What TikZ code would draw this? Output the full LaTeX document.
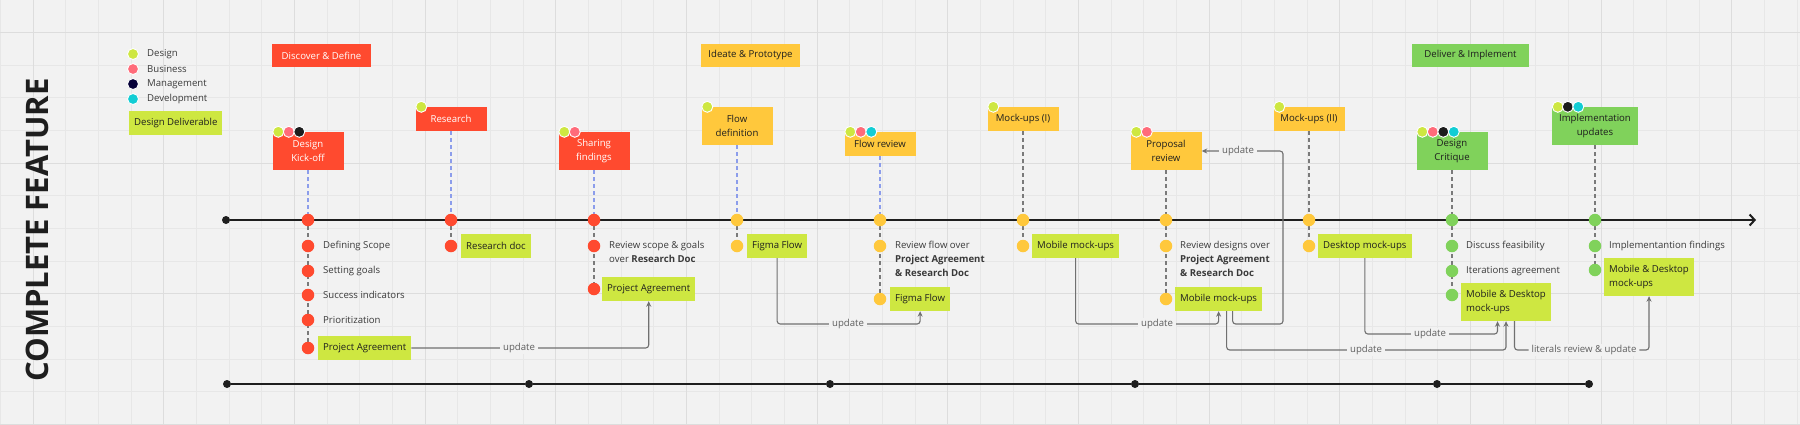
\documentclass[tikz,border=0pt]{standalone}
\usepackage{fontspec}
\setmainfont{Open Sans}
\usetikzlibrary{calc}
\usetikzlibrary{arrows.meta}

\definecolor{paper}{HTML}{F2F2F2}
\definecolor{gridminor}{HTML}{E7E7E7}
\definecolor{gridmajor}{HTML}{DDDDDD}
\definecolor{discover}{HTML}{FF4A2F}
\definecolor{ideate}{HTML}{FFC83C}
\definecolor{deliver}{HTML}{80D25B}
\definecolor{design}{HTML}{CEE741}
\definecolor{business}{HTML}{FF6B7A}
\definecolor{mgmt}{HTML}{050038}
\definecolor{mgmtdark}{HTML}{1C1C1C}
\definecolor{devel}{HTML}{12CDD4}
\definecolor{ink}{HTML}{1E1E1E}
\definecolor{soft}{HTML}{3A3A3A}
\definecolor{wire}{HTML}{707070}
\definecolor{stemblue}{HTML}{8C9DEB}
\definecolor{stemgray}{HTML}{7A7A7A}

\pgfdeclarelayer{grid}
\pgfdeclarelayer{wires}
\pgfsetlayers{grid,wires,main}

\tikzset{
  txt/.style= {font=\fontsize{9.6}{14}\selectfont},
  phase/.style= {txt, minimum height=23pt, inner xsep=6pt, inner ysep=0pt},
  card/.style= {txt, minimum width=71pt, minimum height=24pt, inner sep=0pt, align=center},
  tall/.style= {minimum height=38pt},
  red card/.style= {card, fill=discover, text=white},
  yellow card/.style= {card, fill=ideate, text=ink},
  green card/.style= {card, fill=deliver, text=ink},
  deliv/.style= {txt, fill=design, text=ink, anchor=west, align=left, inner xsep=5pt, inner ysep=0pt, minimum height=24pt},
  item/.style= {txt, text=soft, anchor=west, inner sep=0pt},
  itemblock/.style= {item, anchor=north west, align=left},
  ms/.style= {circle, fill=#1, minimum size=12.5pt, inner sep=0pt},
  who/.style= {circle, fill=#1, draw=white, line width=0.9pt, minimum size=11pt, inner sep=0pt},
  knot/.style= {circle, fill=ink, minimum size=8pt, inner sep=0pt},
  axis/.style= {ink, line width=2pt},
  stem/.style= {draw=#1, dash pattern=on 4pt off 3pt, line width=1.2pt},
  upd/.style= {wire, line width=1.1pt, rounded corners=3pt, -{Stealth[length=5.5pt,width=5pt]}},
  lbl/.style= {txt, text=wire!85!black, fill=paper, inner xsep=3pt, inner ysep=1pt},
}

\begin{document}
\begin{tikzpicture}[x=1pt, y=-1pt]
  \useasboundingbox (0,0) rectangle (1800,424);
  \begin{pgfonlayer}{grid}
    \fill[paper] (0,0) rectangle (1800,424);
    \foreach \i in {0,...,55} \draw[gridminor, line width=0.8pt] ({0.33+32.67*\i},0) -- ++(0,424);
    \foreach \j in {0,...,13} \draw[gridminor, line width=0.8pt] (0,{-0.37+32.67*\j}) -- ++(1800,0);
    \foreach \i in {0,...,13} \draw[gridmajor, line width=0.8pt] ({33+130.68*\i},0) -- ++(0,424);
    \foreach \j in {0,...,3} \draw[gridmajor, line width=0.8pt] (0,{32.3+130.68*\j}) -- ++(1800,0);
  \end{pgfonlayer}

  % title and legend
  \node[font=\fontsize{31}{31}\selectfont\bfseries, text=ink, rotate=90] (title) at (37,230) {COMPLETE FEATURE};
  \node[who=design] (lg1) at (133,54) {};
  \node[who=business] (lg2) at (133,69) {};
  \node[who=mgmt] (lg3) at (133,84) {};
  \node[who=devel] (lg4) at (133,99) {};
  \node[item] (lg1t) at (147,54) {Design};
  \node[item] (lg2t) at (147,69) {Business};
  \node[item] (lg3t) at (147,84) {Management};
  \node[item] (lg4t) at (147,99) {Development};
  \node[deliv] (lg5) at (129,123) {Design Deliverable};

  % phases
  \node[phase, fill=discover, text=white, minimum width=99pt] (discover) at (321.5,55.5) {Discover \& Define};
  \node[phase, fill=ideate, text=ink, minimum width=99pt] (ideate) at (750.5,55.5) {Ideate \& Prototype};
  \node[phase, fill=deliver, text=ink, minimum width=117pt] (deliverph) at (1470.5,55.5) {Deliver \& Implement};

  % milestone cards
  \node[red card, tall] (kick) at (308,151) {Design\\Kick-off};
  \node[red card] (research) at (451,119) {Research};
  \node[red card, tall] (sharing) at (594,151) {Sharing\\findings};
  \node[yellow card, tall] (flowdef) at (737,126) {Flow\\definition};
  \node[yellow card] (flowrev) at (880,144) {Flow review};
  \node[yellow card] (mock1) at (1023,119) {Mock-ups (I)};
  \node[yellow card, tall] (proposal) at (1166,151) {Proposal\\review};
  \node[yellow card] (mock2) at (1309,119) {Mock-ups (II)};
  \node[green card, tall] (critique) at (1452,151) {Design\\Critique};
  \node[green card, tall, minimum width=86pt] (impl) at (1595,126) {Implementation\\updates};

  % who takes part
  \node[who=design] (kick-d) at ($(kick.north west)+(6,0)$) {};
  \node[who=business] (kick-b) at ($(kick.north west)+(16.5,0)$) {};
  \node[who=mgmtdark] (kick-m) at ($(kick.north west)+(27,0)$) {};
  \node[who=design] (research-d) at ($(research.north west)+(6,0)$) {};
  \node[who=design] (sharing-d) at ($(sharing.north west)+(6,0)$) {};
  \node[who=business] (sharing-b) at ($(sharing.north west)+(16.5,0)$) {};
  \node[who=design] (flowdef-d) at ($(flowdef.north west)+(6,0)$) {};
  \node[who=design] (flowrev-d) at ($(flowrev.north west)+(6,0)$) {};
  \node[who=business] (flowrev-b) at ($(flowrev.north west)+(16.5,0)$) {};
  \node[who=devel] (flowrev-v) at ($(flowrev.north west)+(27,0)$) {};
  \node[who=design] (mock1-d) at ($(mock1.north west)+(6,0)$) {};
  \node[who=design] (proposal-d) at ($(proposal.north west)+(6,0)$) {};
  \node[who=business] (proposal-b) at ($(proposal.north west)+(16.5,0)$) {};
  \node[who=design] (mock2-d) at ($(mock2.north west)+(6,0)$) {};
  \node[who=design] (critique-d) at ($(critique.north west)+(6,0)$) {};
  \node[who=business] (critique-b) at ($(critique.north west)+(16.5,0)$) {};
  \node[who=mgmtdark] (critique-m) at ($(critique.north west)+(27,0)$) {};
  \node[who=devel] (critique-v) at ($(critique.north west)+(37.5,0)$) {};
  \node[who=design] (impl-d) at ($(impl.north west)+(6,0)$) {};
  \node[who=mgmtdark] (impl-m) at ($(impl.north west)+(16,0)$) {};
  \node[who=devel] (impl-v) at ($(impl.north west)+(26.5,0)$) {};

  % timeline
  \node[knot] (t0) at (226,220) {};
  \coordinate (tip) at (1756,220);
  \node[ms=discover] (m1) at (308,220) {};
  \node[ms=discover] (m2) at (451,220) {};
  \node[ms=discover] (m3) at (594,220) {};
  \node[ms=ideate] (m4) at (737,220) {};
  \node[ms=ideate] (m5) at (880,220) {};
  \node[ms=ideate] (m6) at (1023,220) {};
  \node[ms=ideate] (m7) at (1166,220) {};
  \node[ms=ideate] (m8) at (1309,220) {};
  \node[ms=deliver] (m9) at (1452,220) {};
  \node[ms=deliver] (m10) at (1595,220) {};

  % steps under each milestone
  \node[ms=discover] (s11) at (308,246) {};
  \node[ms=discover] (s12) at (308,271) {};
  \node[ms=discover] (s13) at (308,295) {};
  \node[ms=discover] (s14) at (308,320) {};
  \node[ms=discover] (s15) at (308,348) {};
  \node[item] (scope) at (323,246) {Defining Scope};
  \node[item] (goals) at (323,271) {Setting goals};
  \node[item] (success) at (323,295) {Success indicators};
  \node[item] (prio) at (323,320) {Prioritization};
  \node[deliv] (pa1) at (318,348) {Project Agreement};

  \node[ms=discover] (s21) at (451,246) {};
  \node[deliv] (rdoc) at (461,246) {Research doc};

  \node[ms=discover] (s31) at (594,246) {};
  \node[ms=discover] (s32) at (594,289) {};
  \node[itemblock] (review1) at (609,241) {Review scope \& goals\\over \textbf{Research Doc}};
  \node[deliv] (pa3) at (602,289) {Project Agreement};

  \node[ms=ideate] (s41) at (737,246) {};
  \node[deliv] (figma1) at (747,246) {Figma Flow};

  \node[ms=ideate] (s51) at (880,246) {};
  \node[ms=ideate] (s52) at (880,299) {};
  \node[itemblock] (review2) at (895,241) {Review flow over\\\textbf{Project Agreement}\\\textbf{\& Research Doc}};
  \node[deliv] (figma2) at (890,299) {Figma Flow};

  \node[ms=ideate] (s61) at (1023,246) {};
  \node[deliv] (mob1) at (1032,246) {Mobile mock-ups};

  \node[ms=ideate] (s71) at (1166,246) {};
  \node[ms=ideate] (s72) at (1166,299) {};
  \node[itemblock] (review3) at (1180,241) {Review designs over\\\textbf{Project Agreement}\\\textbf{\& Research Doc}};
  \node[deliv] (mob2) at (1175,299) {Mobile mock-ups};

  \node[ms=ideate] (s81) at (1309,246) {};
  \node[deliv] (desk) at (1318,246) {Desktop mock-ups};

  \node[ms=deliver] (s91) at (1452,246) {};
  \node[ms=deliver] (s92) at (1452,271) {};
  \node[ms=deliver] (s93) at (1452,295) {};
  \node[item] (feasible) at (1466,246) {Discuss feasibility};
  \node[item] (iterate) at (1466,271) {Iterations agreement};
  \node[deliv, tall] (mobdesk1) at (1461,302) {Mobile \& Desktop\\mock-ups};

  \node[ms=deliver] (s101) at (1595,246) {};
  \node[ms=deliver] (s102) at (1595,270) {};
  \node[item] (findings) at (1609,246) {Implementantion findings};
  \node[deliv, tall] (mobdesk2) at (1604,277) {Mobile \& Desktop\\mock-ups};

  % lower line
  \node[knot] (b1) at (227,384) {};
  \node[knot] (b2) at (529,384) {};
  \node[knot] (b3) at (830,384) {};
  \node[knot] (b4) at (1135,384) {};
  \node[knot] (b5) at (1437,384) {};
  \node[knot] (b6) at (1589,384) {};

  \begin{pgfonlayer}{wires}
    \draw[axis, -{Straight Barb[length=5pt,width=11pt]}] (t0) -- (tip);
    \draw[axis] (b1) -- (b2) -- (b3) -- (b4) -- (b5) -- (b6);
    \draw[stem=stemblue] (kick) -- (m1);
    \draw[stem=stemblue] (research) -- (m2);
    \draw[stem=stemblue] (sharing) -- (m3);
    \draw[stem=stemblue] (flowdef) -- (m4);
    \draw[stem=stemblue] (flowrev) -- (m5);
    \draw[stem=stemgray] (mock1) -- (m6);
    \draw[stem=stemgray] (proposal) -- (m7);
    \draw[stem=stemgray] (mock2) -- (m8);
    \draw[stem=stemgray] (critique) -- (m9);
    \draw[stem=stemgray] (impl) -- (m10);
    \draw[stem=stemgray] (m1) -- (s15);
    \draw[stem=stemgray] (m2) -- (s21);
    \draw[stem=stemgray] (m3) -- (s32);
    \draw[stem=stemgray] (m4) -- (s41);
    \draw[stem=stemgray] (m5) -- (s52);
    \draw[stem=stemgray] (m6) -- (s61);
    \draw[stem=stemgray] (m7) -- (s72);
    \draw[stem=stemgray] (m8) -- (s81);
    \draw[stem=stemgray] (m9) -- (s93);
    \draw[stem=stemgray] (m10) -- (s102);
  \end{pgfonlayer}

  % updates
  \coordinate (u1) at (519,348);
  \coordinate (u2) at (848,324);
  \coordinate (u3) at (1157,324);
  \coordinate (r4) at (1283,324);
  \coordinate (u4) at (1238,151);
  \coordinate (u5) at (1430,334);
  \coordinate (u6) at (1366,350);
  \coordinate (u7) at (1584,350);
  \draw[upd] (pa1.east) -- (u1) node[lbl] (lab1) {update} -| (pa3.south);
  \draw[upd] (figma1.south) |- (u2) node[lbl] (lab2) {update} -| (figma2.south);
  \draw[upd] (mob1.south) |- (u3) node[lbl] (lab3) {update} -| (mob2.south);
  \draw[upd] ([xshift=14pt]mob2.south) |- (r4) |- (u4) node[lbl] (lab4) {update} -- (proposal.east);
  \draw[upd] (desk.south) |- (u5) node[lbl] (lab5) {update} -| ([xshift=-8.5pt]mobdesk1.south);
  \draw[upd] ([xshift=8pt]mob2.south) |- (u6) node[lbl] (lab6) {update} -| (mobdesk1.south);
  \draw[upd] ([xshift=8.5pt]mobdesk1.south) |- (u7) node[lbl] (lab7) {literals review \& update} -| (mobdesk2.south);
\end{tikzpicture}
\end{document}
